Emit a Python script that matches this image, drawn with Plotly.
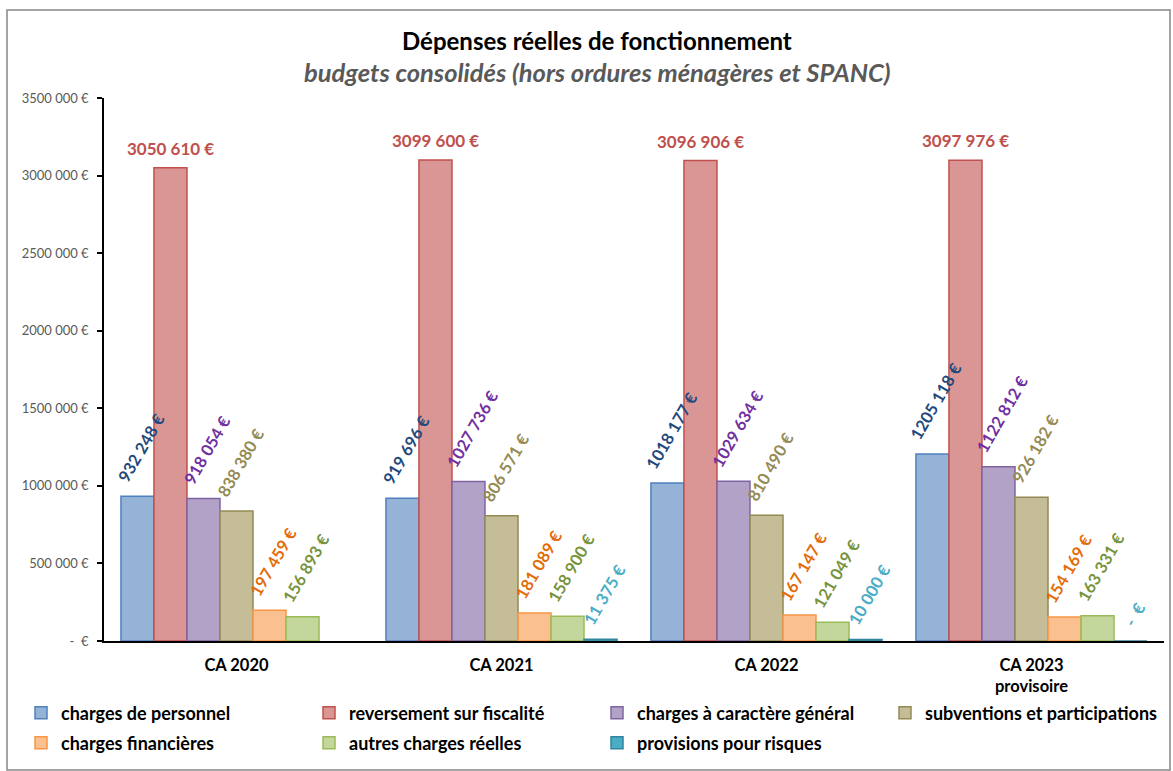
import plotly.graph_objects as go

# Budget years (category axis)
categories = ["CA 2020", "CA 2021", "CA 2022", "CA 2023<br>provisoire"]

# Expense series, in euros
charges_personnel = [932248, 919696, 1018177, 1205118]
reversement_fiscalite = [3050610, 3099600, 3096906, 3097976]
charges_caractere_general = [918054, 1027736, 1029634, 1122812]
subventions_participations = [838380, 806571, 810490, 926182]
charges_financieres = [197459, 181089, 167147, 154169]
autres_charges_reelles = [156893, 158900, 121049, 163331]
provisions_risques = [None, 11375, 10000, 0]

series_names = [
    "charges de personnel",
    "reversement sur fiscalité",
    "charges à caractère général",
    "subventions et participations",
    "charges financières",
    "autres charges réelles",
    "provisions pour risques",
]

# Y axis ticks
y_tick_values = [0, 500000, 1000000, 1500000, 2000000, 2500000, 3000000, 3500000]

FONT = "Lato"


def euro(v):
    """French-style euro label: '932 248 €', '3050 610 €', '-  €'."""
    if v is None:
        return ""
    if v == 0:
        return "-  €"
    v = int(round(v))
    if v >= 1000:
        return f"{v // 1000} {v % 1000:03d} €"
    return f"{v} €"


styles = [
    # fill, outline, label colour, label angle
    ("#95B3D7", "#4F81BD", "#1F497D", -60),
    ("#D99694", "#C0504D", "#C0504D", 0),
    ("#B3A2C7", "#8064A2", "#7030A0", -60),
    ("#C4BD97", "#948A54", "#948A54", -60),
    ("#FAC090", "#F79646", "#E36C09", -60),
    ("#C3D69B", "#9BBB59", "#77933C", -60),
    ("#4BACC6", "#31859C", "#4BACC6", -60),
]

all_series = [
    charges_personnel,
    reversement_fiscalite,
    charges_caractere_general,
    subventions_participations,
    charges_financieres,
    autres_charges_reelles,
    provisions_risques,
]

# plot area geometry (pixels) used for paper-coordinate placement
L, R, T, B = 104, 1164, 98, 641
W, H = R - L, B - T
BARGAP = 0.128
n_series = len(all_series)
bar_px = (W / len(categories)) * (1 - BARGAP) / n_series


def px_x(x):
    return (x - L) / W


def px_y(y):
    return (B - y) / H


fig = go.Figure()
annotations = []
for i, (name, vals, (fill, line, lab, ang)) in enumerate(zip(series_names, all_series, styles)):
    fig.add_trace(
        go.Bar(
            name=name,
            x=categories,
            y=vals,
            marker=dict(color=fill, line=dict(color=line, width=1.5)),
            legend="legend" if i < 4 else "legend2",
            hovertemplate=name + " : %{y:,.0f} €<extra></extra>",
        )
    )
    # value labels drawn above every bar (annotations sit on top of all bars)
    offset = (i - (n_series - 1) / 2) * bar_px
    horizontal = ang == 0
    for cat, v in zip(categories, vals):
        if v is None:
            continue
        annotations.append(
            dict(
                x=cat, y=v, xref="x", yref="y",
                text=euro(v),
                textangle=ang,
                xanchor="center", yanchor="bottom",
                xshift=offset + (0 if horizontal else 4),
                yshift=7 if horizontal else 8,
                showarrow=False,
                font=dict(family=FONT, size=17 if horizontal else 16.5,
                          color=lab, weight="bold"),
            )
        )

annotations += [
    dict(
        text="Dépenses réelles de fonctionnement",
        xref="paper", yref="paper",
        x=px_x(597), y=px_y(40),
        xanchor="center", yanchor="middle",
        showarrow=False,
        font=dict(family=FONT, size=24, color="black", weight="bold"),
    ),
    dict(
        text="budgets consolidés (hors ordures ménagères et SPANC)",
        xref="paper", yref="paper",
        x=px_x(597), y=px_y(72),
        xanchor="center", yanchor="middle",
        showarrow=False,
        font=dict(family=FONT, size=25.5, color="#595959", weight="bold", style="italic"),
    ),
]

legend_common = dict(
    orientation="h",
    xanchor="left",
    yanchor="middle",
    entrywidth=243,
    entrywidthmode="pixels",
    font=dict(family=FONT, size=18, color="black", weight="bold"),
    bgcolor="rgba(0,0,0,0)",
    itemclick=False,
    itemdoubleclick=False,
)

fig.update_layout(
    width=1173,
    height=771,
    margin=dict(l=L, r=1173 - R, t=T, b=771 - B, autoexpand=False),
    paper_bgcolor="white",
    plot_bgcolor="white",
    barmode="group",
    bargap=BARGAP,
    bargroupgap=0,
    legend=dict(x=px_x(21), y=px_y(713), **legend_common),
    legend2=dict(x=px_x(21), y=px_y(743), **legend_common),
    xaxis=dict(
        showline=True,
        linecolor="black",
        linewidth=1.5,
        ticks="",
        showgrid=False,
        tickfont=dict(family=FONT, size=16.5, color="black", weight="bold"),
        ticklabelstandoff=8,
    ),
    yaxis=dict(
        range=[0, 3500000],
        showline=True,
        linecolor="black",
        linewidth=1.5,
        ticks="outside",
        ticklen=5,
        tickcolor="black",
        tickwidth=1.5,
        showgrid=False,
        zeroline=False,
        tickvals=y_tick_values,
        ticktext=[euro(v) for v in y_tick_values],
        tickfont=dict(family=FONT, size=13, color="#595959"),
        ticklabelstandoff=6,
    ),
    annotations=annotations,
    shapes=[
        dict(
            type="rect",
            xref="paper", yref="paper",
            x0=px_x(7), x1=px_x(1170),
            y0=px_y(770), y1=px_y(10),
            line=dict(color="#868686", width=1.5),
            fillcolor="rgba(0,0,0,0)",
            layer="below",
        )
    ],
)

fig.write_html("out.html")
